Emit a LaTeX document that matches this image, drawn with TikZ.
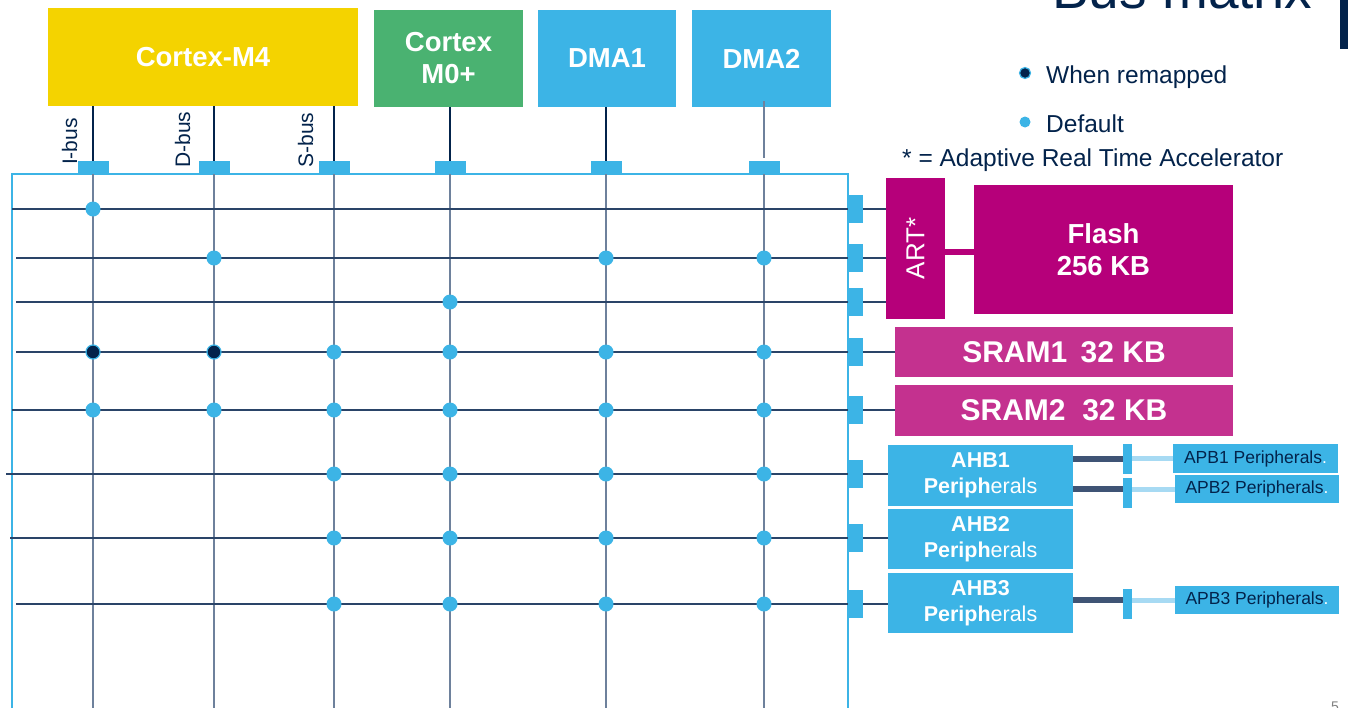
\documentclass[tikz,border=0pt]{standalone}
\usepackage{fontspec}
\setmainfont{Liberation Sans}
\definecolor{stYellow}{HTML}{F4D300}
\definecolor{stGreen}{HTML}{4AB271}
\definecolor{stBlue}{HTML}{3CB4E6}
\definecolor{stNavy}{HTML}{03234B}
\definecolor{stMag}{HTML}{B6007A}
\definecolor{stPink}{HTML}{C4318F}
\definecolor{gridV}{HTML}{6E819C}
\definecolor{gridH}{HTML}{2A4468}
\definecolor{barDark}{HTML}{3F5475}
\definecolor{barLight}{HTML}{A7DAF3}
\newcommand\FSz[1]{\fontsize{#1}{#1}\selectfont}
\begin{document}
\begin{tikzpicture}[x=1pt,y=-1pt,
  blk/.style={anchor=north west, inner sep=0pt, outer sep=0pt, text=white, align=center,
    font=\bfseries\fontsize{27.5}{32}\selectfont},
  ahb/.style={blk, fill=stBlue, minimum width=185pt, minimum height=60pt,
    font=\bfseries\fontsize{21.5}{26}\selectfont},
  apb/.style={anchor=north west, inner sep=0pt, outer sep=0pt, fill=stBlue, text=stNavy,
    minimum width=164pt, minimum height=28pt, font=\FSz{17.5}},
  tport/.style={fill=stBlue, minimum width=31pt, minimum height=13pt, inner sep=0pt, outer sep=0pt},
  rport/.style={fill=stBlue, minimum width=15pt, minimum height=28pt, inner sep=0pt, outer sep=0pt},
  bridge/.style={fill=stBlue, minimum width=9pt, minimum height=30pt, inner sep=0pt, outer sep=0pt},
  busline/.style={draw=stNavy, line width=1.1pt},
  gridv/.style={draw=gridV, line width=1.5pt},
  gridh/.style={draw=gridH, line width=1.3pt},
  dflt/.style={circle, fill=stBlue, minimum size=15pt, inner sep=0pt},
  remap/.style={circle, fill=stNavy, draw=stBlue, line width=1.2pt, minimum size=14pt, inner sep=0pt},
  buslbl/.style={rotate=90, anchor=base, text=stNavy, font=\FSz{21}, inner sep=0pt},
  legend/.style={anchor=base west, text=stNavy, font=\FSz{24.5}, inner sep=0pt},
  darkbar/.style={draw=barDark, line width=6pt},
  lightbar/.style={draw=barLight, line width=5pt}]
\useasboundingbox (0,0) rectangle (1348,707);
\fill[white] (0,0) rectangle (1348,707);

% title (cut by the page) and side bar
\node[anchor=base west, text=stNavy, font=\FSz{55}, inner sep=0pt] (title) at (1052,8) {Bus matrix};
\fill[stNavy] (1340,0) rectangle (1348,49);
\node[anchor=base west, text=gray, font=\FSz{14}, inner sep=0pt] (pagenum) at (1331,711) {5};

% columns and rows
\coordinate (cI) at (93,0);
\coordinate (cD) at (214,0);
\coordinate (cS) at (334,0);
\coordinate (cM) at (450,0);
\coordinate (cA) at (606,0);
\coordinate (cB) at (764,0);
\coordinate (bot) at (0,712);
\coordinate (tp) at (0,167.5);
\coordinate (rp) at (855.5,0);

% master blocks
\node[blk, fill=stYellow, minimum width=310pt, minimum height=98pt] (m4) at (48,8) {Cortex-M4};
\node[blk, fill=stGreen, minimum width=149pt, minimum height=97pt] (m0) at (374,10) {Cortex\\M0+};
\node[blk, fill=stBlue, minimum width=138pt, minimum height=97pt] (dma1) at (538,10) {DMA1};
\node[blk, fill=stBlue, minimum width=139pt, minimum height=97pt] (dma2) at (692,10) {DMA2};

% matrix outline
\draw[stBlue, line width=1.2pt] (12,712) -- (12,174) -- (848,174) -- (848,712);

% master ports
\node[tport] (pI) at (cI |- tp) {};
\node[tport] (pD) at (cD |- tp) {};
\node[tport] (pS) at (cS |- tp) {};
\node[tport] (pM) at (cM |- tp) {};
\node[tport] (pA) at (cA |- tp) {};
\node[tport] (pB) at (cB |- tp) {};

% bus labels
\node[buslbl] (lI) at (77,141.5) {I-bus};
\node[buslbl] (lD) at (190,139.5) {D-bus};
\node[buslbl] (lS) at (313,140) {S-bus};

% slave blocks
\node[blk, fill=stMag, minimum width=59pt, minimum height=141pt] (art) at (886,178) {};
\node[rotate=90, text=white, font=\FSz{26}, inner sep=0pt] (artlbl) at (art.center) {ART*};
\node[blk, fill=stMag, minimum width=259pt, minimum height=129pt] (flash) at (974,185) {Flash\\256 KB};
\node[blk, fill=stPink, minimum width=338pt, minimum height=50pt, font=\bfseries\FSz{30}] (sram1) at (895,327) {SRAM1\, 32 KB};
\node[blk, fill=stPink, minimum width=338pt, minimum height=51pt, font=\bfseries\FSz{30}] (sram2) at (895,385) {SRAM2\ \ 32 KB};
\node[ahb, minimum height=61pt] (ahb1) at (888,445) {AHB1\\Periph{\mdseries erals}};
\node[ahb] (ahb2) at (888,509) {AHB2\\Periph{\mdseries erals}};
\node[ahb] (ahb3) at (888,573) {AHB3\\Periph{\mdseries erals}};

% APB side
\node[apb, minimum width=165pt, minimum height=29pt] (apb1) at (1173,444) {APB1 Peripherals\textcolor{white}{.}};
\node[apb] (apb2) at (1175,475) {APB2 Peripherals\textcolor{white}{.}};
\node[apb] (apb3) at (1175,586) {APB3 Peripherals\textcolor{white}{.}};
\node[bridge] (br1) at (1127.5,459) {};
\node[bridge] (br2) at (1127.5,493) {};
\node[bridge] (br3) at (1127.5,604) {};
\draw[darkbar] (ahb1.east |- apb1.west) -- (br1.west |- apb1.west);
\draw[darkbar] (ahb1.east |- apb2.west) -- (br2.west |- apb2.west);
\draw[darkbar] (ahb3.east |- apb3.west) -- (br3.west |- apb3.west);
\draw[lightbar] (br1.east |- apb1.west) -- (apb1.west);
\draw[lightbar] (br2.east |- apb2.west) -- (apb2.west);
\draw[lightbar] (br3.east |- apb3.west) -- (apb3.west);

% ART to flash link
\coordinate (fbar) at (0,252);
\draw[stMag, line width=6pt] (art.east |- fbar) -- (flash.west |- fbar);

% slave ports
\node[rport] (s1) at (rp |- 0,209) {};
\node[rport] (s2) at (rp |- 0,258) {};
\node[rport] (s3) at (rp |- 0,302) {};
\node[rport] (s4) at (rp |- 0,352) {};
\node[rport] (s5) at (rp |- 0,410) {};
\node[rport] (s6) at (rp |- 0,474) {};
\node[rport] (s7) at (rp |- 0,538) {};
\node[rport] (s8) at (rp |- 0,604) {};

% row start points
\coordinate (l1) at (12,209);
\coordinate (l2) at (16,258);
\coordinate (l3) at (16,302);
\coordinate (l4) at (16,352);
\coordinate (l5) at (12,410);
\coordinate (l6) at (6,474);
\coordinate (l7) at (10,538);
\coordinate (l8) at (16,604);

% bus lines from masters to ports
\draw[busline] (pI.north |- m4.south) -- (pI.north);
\draw[busline] (pD.north |- m4.south) -- (pD.north);
\draw[busline] (pS.north |- m4.south) -- (pS.north);
\draw[busline] (pM.north |- m0.south) -- (pM.north);
\draw[busline] (pA.north |- dma1.south) -- (pA.north);
\draw[busline, draw=gridV] (pB.north |- 0,101) -- (pB.north |- 0,158);

% vertical grid lines
\foreach \p in {pI,pD,pS,pM,pA,pB}
  \draw[gridv] (\p.south) -- (\p.south |- bot);

% horizontal grid lines
\foreach \i in {1,...,8}
  \draw[gridh] (l\i) -- (s\i.west);
\draw[gridh] (s1.east) -- (s1.east -| art.west);
\draw[gridh] (s2.east) -- (s2.east -| art.west);
\draw[gridh] (s3.east) -- (s3.east -| art.west);
\draw[gridh] (s4.east) -- (sram1.west |- s4.east);
\draw[gridh] (s5.east) -- (sram2.west |- s5.east);
\draw[gridh] (s6.east) -- (ahb1.west |- s6.east);
\draw[gridh] (s7.east) -- (ahb2.west |- s7.east);
\draw[gridh] (s8.east) -- (ahb3.west |- s8.east);

% crossing points
\foreach \c/\r in {I/1, D/2, A/2, B/2, M/3,
                   S/4, M/4, A/4, B/4,
                   I/5, D/5, S/5, M/5, A/5, B/5,
                   S/6, M/6, A/6, B/6,
                   S/7, M/7, A/7, B/7,
                   S/8, M/8, A/8, B/8}
  \node[dflt] (x\c\r) at (c\c |- l\r) {};
\node[remap] (xI4) at (cI |- l4) {};
\node[remap] (xD4) at (cD |- l4) {};

% legend
\node[remap, minimum size=11pt, line width=1.2pt] (legR) at (1025,73) {};
\node[dflt, minimum size=11pt] (legD) at (1025,122) {};
\node[legend] (legRt) at (1046,83) {When remapped};
\node[legend] (legDt) at (1046,132) {Default};
\node[legend] (legA) at (902,166) {* = Adaptive Real Time Accelerator};
\end{tikzpicture}
\end{document}
